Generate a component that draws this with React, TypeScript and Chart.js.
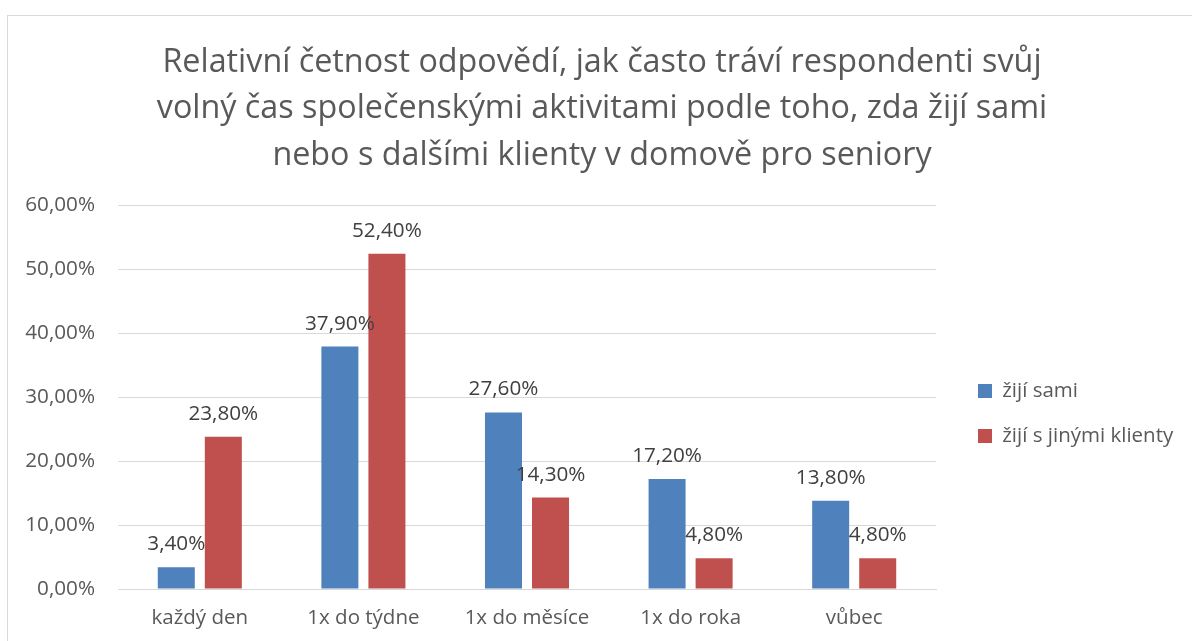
import React, { useEffect, useRef } from "react";
import { Chart, registerables } from "chart.js";

Chart.register(...registerables);

const categories = ["každý den", "1x do týdne", "1x do měsíce", "1x do roka", "vůbec"];
const seriesNames = ["žijí sami", "žijí s jinými klienty"];
const aloneValues = [3.4, 37.9, 27.6, 17.2, 13.8];
const othersValues = [23.8, 52.4, 14.3, 4.8, 4.8];
const titleLines = [
  "Relativní četnost odpovědí, jak často tráví respondenti svůj",
  "volný čas společenskými aktivitami podle toho, zda žijí sami",
  "nebo s dalšími klienty v domově pro seniory",
];
const yTicksMin = 0;
const yTicksMax = 60;
const yTicksStep = 10;

const W = 1192;
const H = 641;
const FONT = "'Open Sans'";
const LEGEND_FONT_SIZE = 20.5;
const LEGEND_PAD = 24.5;
const LEGEND_BOX = 14;
const PLOT_LEFT = 118;
const PLOT_RIGHT = 936;
const TITLE_CENTER = 602;

const fmt = (v: number) => v.toFixed(2).replace(".", ",") + "%";

const dataLabelPlugin = {
  id: "dataLabels",
  afterDatasetsDraw(chart: any) {
    const ctx = chart.ctx;
    ctx.save();
    ctx.font = `20.7px ${FONT}`;
    ctx.fillStyle = "#404040";
    ctx.textAlign = "center";
    ctx.textBaseline = "alphabetic";
    chart.data.datasets.forEach((ds: any, di: number) => {
      const meta = chart.getDatasetMeta(di);
      meta.data.forEach((el: any, i: number) => {
        ctx.fillText(fmt(ds.data[i]), el.x, el.y - 17);
      });
    });
    ctx.restore();
  },
};

export default function App() {
  const ref = useRef<HTMLCanvasElement | null>(null);

  useEffect(() => {
    if (!ref.current) return;
    let padL = 2 * TITLE_CENTER - W;
    let padR = 0;

    const chart = new Chart(ref.current, {
      type: "bar",
      data: {
        labels: categories,
        datasets: [
          {
            label: seriesNames[0],
            data: aloneValues,
            backgroundColor: "#4F81BD",
            borderWidth: 0,
            categoryPercentage: 0.575,
            barPercentage: 0.787,
          },
          {
            label: seriesNames[1],
            data: othersValues,
            backgroundColor: "#C0504D",
            borderWidth: 0,
            categoryPercentage: 0.575,
            barPercentage: 0.787,
          },
        ],
      },
      options: {
        animation: false,
        responsive: false,
        layout: { padding: { top: 17, left: padL, right: padR, bottom: 0 } },
        scales: {
          x: {
            grid: { display: false },
            border: { display: true, color: "#D9D9D9", width: 1 },
            ticks: {
              color: "#595959",
              font: { family: FONT, size: 20.5 },
              padding: 9,
              maxRotation: 0,
            },
            afterFit: (s: any) => {
              s.height = 52;
            },
          },
          y: {
            min: yTicksMin,
            max: yTicksMax,
            ticks: {
              stepSize: yTicksStep,
              color: "#595959",
              font: { family: FONT, size: 20.7 },
              padding: 23,
              callback: (v: any) => fmt(Number(v)),
            },
            grid: { color: "#D9D9D9", lineWidth: 1, drawTicks: false },
            border: { display: false },
            afterFit: (s: any) => {
              s.width = PLOT_LEFT - padL;
            },
          },
          y2: {
            type: "linear",
            position: "right",
            display: true,
            grid: { display: false, drawTicks: false },
            border: { display: false },
            ticks: { display: false },
            afterFit: (s: any) => {
              s.width = 42 - LEGEND_PAD;
            },
          },
        },
        plugins: {
          title: {
            display: true,
            text: titleLines,
            color: "#595959",
            font: { family: FONT, size: 32.3, weight: "normal", lineHeight: 46.7 / 32.3 },
            padding: { top: 22, bottom: 26 },
          },
          legend: {
            display: true,
            position: "right",
            fullSize: false,
            align: "center",
            maxWidth: 400,
            title: {
              display: true,
              text: " ",
              color: "rgba(0,0,0,0)",
              font: { family: FONT, size: 10, lineHeight: 1 },
              padding: { top: 23, bottom: 0 },
            },
            labels: {
              color: "#595959",
              font: { family: FONT, size: LEGEND_FONT_SIZE },
              boxWidth: LEGEND_BOX,
              boxHeight: LEGEND_BOX,
              padding: LEGEND_PAD,
            },
          },
          tooltip: { enabled: false },
        },
      },
      plugins: [dataLabelPlugin],
    });

    // place the plot/legend boundary where the reference has it, keeping the title centred
    const delta = chart.chartArea.right - PLOT_RIGHT;
    if (Math.abs(delta) > 0.5) {
      padR = Math.max(0, delta);
      padL = padR + 2 * TITLE_CENTER - W;
      const p = (chart.options.layout as any).padding;
      p.right = padR;
      p.left = padL;
      chart.update();
    }

    return () => chart.destroy();
  }, []);

  return (
    <div
      style={{
        position: "fixed",
        left: 0,
        top: 0,
        width: W,
        height: H,
        overflow: "hidden",
        background: "#fff",
      }}
    >
      <div
        style={{
          position: "absolute",
          left: 7,
          top: 15,
          width: W + 20,
          height: H + 20,
          border: "1px solid #D9D9D9",
          boxSizing: "border-box",
        }}
      />
      <canvas ref={ref} width={W} height={H} style={{ position: "absolute", left: 0, top: 0 }} />
    </div>
  );
}
